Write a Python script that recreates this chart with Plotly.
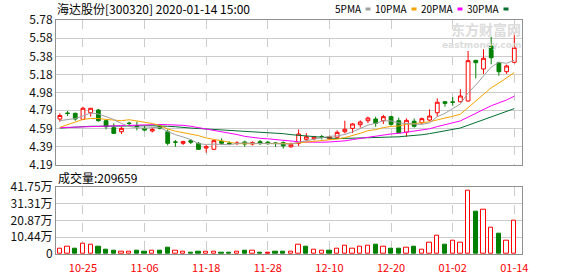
import plotly.graph_objects as go
import pandas as pd
import numpy as np

dates = ["10-22", "10-23", "10-24", "10-25", "10-28", "10-29", "10-30", "10-31", "11-01", "11-04",
         "11-05", "11-06", "11-07", "11-08", "11-11", "11-12", "11-13", "11-14", "11-15", "11-18",
         "11-19", "11-20", "11-21", "11-22", "11-25", "11-26", "11-27", "11-28", "11-29", "12-02",
         "12-03", "12-04", "12-05", "12-06", "12-09", "12-10", "12-11", "12-12", "12-13", "12-16",
         "12-17", "12-18", "12-19", "12-20", "12-23", "12-24", "12-25", "12-26", "12-27", "12-30",
         "12-31", "01-02", "01-03", "01-06", "01-07", "01-08", "01-09", "01-10", "01-13", "01-14"]

open_ = [4.694, 4.760, 4.757, 4.691, 4.763, 4.793, 4.676, 4.599, 4.555, 4.650,
         4.620, 4.592, 4.563, 4.617, 4.555, 4.443, 4.428, 4.457, 4.428, 4.376,
         4.362, 4.450, 4.430, 4.425, 4.442, 4.420, 4.446, 4.440, 4.430, 4.435,
         4.390, 4.428, 4.472, 4.478, 4.500, 4.478, 4.494, 4.555, 4.592, 4.632,
         4.676, 4.694, 4.676, 4.720, 4.676, 4.550, 4.670, 4.654, 4.683, 4.763,
         4.884, 4.882, 4.884, 4.892, 5.338, 5.243, 5.495, 5.312, 5.213, 5.316]
high = [4.757, 4.782, 4.763, 4.829, 4.815, 4.804, 4.683, 4.647, 4.610, 4.665,
        4.665, 4.617, 4.600, 4.640, 4.580, 4.464, 4.457, 4.475, 4.440, 4.410,
        4.460, 4.483, 4.450, 4.450, 4.457, 4.450, 4.465, 4.455, 4.440, 4.450,
        4.435, 4.580, 4.540, 4.510, 4.520, 4.510, 4.570, 4.676, 4.650, 4.680,
        4.720, 4.720, 4.740, 4.730, 4.710, 4.700, 4.700, 4.710, 4.800, 4.920,
        4.884, 4.935, 5.020, 5.440, 5.338, 5.460, 5.597, 5.323, 5.290, 5.640]
low = [4.665, 4.727, 4.676, 4.683, 4.720, 4.665, 4.581, 4.530, 4.530, 4.620,
       4.570, 4.560, 4.548, 4.580, 4.405, 4.390, 4.410, 4.420, 4.355, 4.325,
       4.355, 4.410, 4.410, 4.410, 4.390, 4.405, 4.410, 4.410, 4.390, 4.370,
       4.380, 4.398, 4.450, 4.460, 4.470, 4.470, 4.480, 4.537, 4.540, 4.600,
       4.650, 4.610, 4.640, 4.620, 4.537, 4.500, 4.600, 4.640, 4.670, 4.720,
       4.830, 4.840, 4.875, 4.884, 5.140, 5.188, 5.294, 5.169, 5.190, 5.305]
close = [4.733, 4.755, 4.694, 4.812, 4.812, 4.676, 4.610, 4.537, 4.592, 4.645,
         4.615, 4.573, 4.580, 4.592, 4.428, 4.440, 4.446, 4.440, 4.362, 4.390,
         4.457, 4.428, 4.425, 4.430, 4.420, 4.435, 4.425, 4.425, 4.428, 4.400,
         4.417, 4.530, 4.500, 4.500, 4.497, 4.500, 4.548, 4.582, 4.640, 4.661,
         4.705, 4.647, 4.720, 4.636, 4.544, 4.680, 4.615, 4.698, 4.727, 4.878,
         4.866, 4.878, 4.947, 5.334, 5.312, 5.360, 5.366, 5.213, 5.276, 5.480]

# moving-average values for the first bars (before a full window exists)
ma5_head = [4.676, 4.690, 4.700, 4.727]
ma10_head = [4.603, 4.630, 4.660, 4.690, 4.700, 4.700, 4.690, 4.680, 4.676]
ma20_head = [4.600, 4.603, 4.605, 4.607, 4.610, 4.612, 4.615, 4.620, 4.625, 4.630,
             4.630, 4.632, 4.635, 4.635, 4.632, 4.630, 4.625, 4.615, 4.600]
ma30_head = [4.595, 4.600, 4.612, 4.615, 4.615, 4.615, 4.617, 4.617, 4.617, 4.617,
             4.620, 4.620, 4.620, 4.620, 4.615, 4.610, 4.600, 4.595, 4.590, 4.585,
             4.580, 4.580, 4.575, 4.570, 4.565, 4.560, 4.555, 4.548, 4.540]

volume = [32700, 43000, 33000, 65000, 57000, 45000, 26500, 20000, 16000, 16000,
          20000, 15000, 18000, 20000, 39000, 18000, 12000, 9000, 15000, 12000,
          12000, 9000, 9000, 12000, 20000, 20000, 9000, 9000, 12000, 12000,
          12000, 57000, 45000, 25000, 18000, 20000, 31000, 51000, 31000, 45000,
          51000, 57000, 45000, 33000, 33000, 39000, 45000, 26000, 68000, 113000,
          57000, 80000, 70000, 391000, 261000, 273000, 162000, 125000, 80000, 209659]
# u = up (hollow red), d = down (green), f = flat (solid red)
vol_dir = ["u", "u", "d", "u", "u", "d", "d", "d", "u", "u",
           "d", "d", "u", "d", "d", "u", "u", "d", "d", "u",
           "u", "d", "d", "u", "d", "u", "d", "f", "d", "d",
           "u", "u", "d", "u", "u", "d", "u", "u", "u", "u",
           "u", "d", "u", "d", "d", "u", "d", "u", "u", "u",
           "d", "u", "u", "u", "d", "u", "u", "d", "u", "u"]

tick_dates = ["10-25", "11-06", "11-18", "11-28", "12-10", "12-20", "01-02", "01-14"]
price_ticks = [4.19, 4.39, 4.59, 4.79, 4.98, 5.18, 5.38, 5.58, 5.78]
price_tick_text = ["4.19", "4.39", "4.59", "4.79", "4.98", "5.18", "5.38", "5.58", "5.78"]
vol_ticks = [0, 104375, 208750, 313125, 417500]
vol_tick_text = ["0", "10.44万", "20.87万", "31.31万", "41.75万"]
legend_names = ["5PMA", "10PMA", "20PMA", "30PMA"]

RED = "#ff0000"
GREEN = "#008000"
GRID = "#cccccc"
BORDER = "#909090"
MA_COLORS = ["#a0a0a0", "#f5a300", "#ff00ff", "#006f2f"]
FONT = "Noto Sans CJK SC, DejaVu Sans, sans-serif"

def ma(n, head):
    m = pd.Series(close).rolling(n).mean().to_numpy()
    m[: n - 1] = head
    return m

ma_series = [ma(5, ma5_head), ma(10, ma10_head), ma(20, ma20_head), ma(30, ma30_head)]

fig = go.Figure()

fig.add_trace(go.Candlestick(
    x=dates, open=open_, high=high, low=low, close=close,
    increasing=dict(line=dict(color=RED, width=1), fillcolor="white"),
    decreasing=dict(line=dict(color=GREEN, width=1), fillcolor=GREEN),
    whiskerwidth=0, xaxis="x", yaxis="y", showlegend=False, hoverinfo="skip"))

for vals, col in reversed(list(zip(ma_series, MA_COLORS))):
    fig.add_trace(go.Scatter(x=dates, y=vals, mode="lines", line=dict(color=col, width=1),
                             xaxis="x", yaxis="y", showlegend=False, hoverinfo="skip"))

styles = {"u": dict(color="white", line=dict(color=RED, width=1)),
          "d": dict(color=GREEN, line=dict(color=GREEN, width=1)),
          "f": dict(color=RED, line=dict(color=RED, width=1))}
for key, mk in styles.items():
    xs = [d for d, k in zip(dates, vol_dir) if k == key]
    ys = [v for v, k in zip(volume, vol_dir) if k == key]
    fig.add_trace(go.Bar(x=xs, y=ys, marker=mk, width=0.56, xaxis="x2", yaxis="y2",
                         showlegend=False, hoverinfo="skip"))

xcommon = dict(type="category", categoryorder="array", categoryarray=dates,
               range=[-0.5, 60], tickvals=tick_dates, ticktext=tick_dates,
               showgrid=True, gridcolor=GRID, griddash="dash", gridwidth=1,
               showline=True, linecolor=BORDER, linewidth=1, mirror=True,
               ticks="", zeroline=False, fixedrange=True, automargin=False)
ycommon = dict(showgrid=True, gridcolor=GRID, showline=True, linecolor=BORDER, mirror=True,
               ticks="", zeroline=False, fixedrange=True, automargin=False,
               tickfont=dict(size=12, color="#111", family=FONT))

fig.update_layout(
    width=578, height=276,
    margin=dict(l=56, r=56, t=20, b=22, autoexpand=False),
    paper_bgcolor="white", plot_bgcolor="white",
    font=dict(family=FONT, size=12, color="#000"),
    bargap=0, barmode="overlay", boxgap=0.3,
    xaxis=dict(**xcommon, domain=[0, 1], anchor="y", showticklabels=False,
               rangeslider=dict(visible=False)),
    xaxis2=dict(**xcommon, domain=[0, 1], anchor="y2", showticklabels=True,
                ticklabelstandoff=4, tickfont=dict(color=RED, size=11, family=FONT)),
    yaxis=dict(**ycommon, domain=[0.3803, 1], range=[4.19, 5.78], tickvals=price_ticks,
               ticktext=price_tick_text),
    yaxis2=dict(**ycommon, domain=[0, 0.2876], range=[0, 417500], tickvals=vol_ticks,
                ticktext=vol_tick_text),
)

def px_x(p):
    return (p - 56) / 466.0

def px_y(p):
    return (254 - p) / 234.0

annotations = [
    dict(text="海达股份[300320] 2020-01-14 15:00", x=px_x(55), y=px_y(8.5), xanchor="left",
         font=dict(family=FONT, size=12, color="#000")),
    dict(text="成交量:209659", x=px_x(56), y=px_y(177.5), xanchor="left",
         font=dict(family=FONT, size=12, color="#000")),
    dict(text="<b>东方财富网</b>", x=px_x(523), y=px_y(29.5), xanchor="right",
         font=dict(family=FONT, size=14, color="#dcdcdc")),
    dict(text="<b>eastmoney.com</b>", x=px_x(523), y=px_y(45), xanchor="right",
         font=dict(family="DejaVu Sans", size=9, color="#dcdcdc")),
]
legend_right = [363, 409, 455, 501]
for name, xr in zip(legend_names, legend_right):
    annotations.append(dict(text=name, x=px_x(xr + 1), y=px_y(9), xanchor="right",
                            font=dict(family=FONT, size=10, color="#000")))
for a in annotations:
    a.update(xref="paper", yref="paper", showarrow=False, yanchor="middle")
fig.update_layout(annotations=annotations)

shapes = []
for xr, col in zip(legend_right, MA_COLORS):
    x0 = xr + 2.5
    shapes.append(dict(type="rect", xref="paper", yref="paper",
                       x0=px_x(x0), x1=px_x(x0 + 5), y0=px_y(10.5), y1=px_y(7.5),
                       fillcolor=col, line=dict(width=0)))
fig.update_layout(shapes=shapes)

fig.write_html("out.html")
